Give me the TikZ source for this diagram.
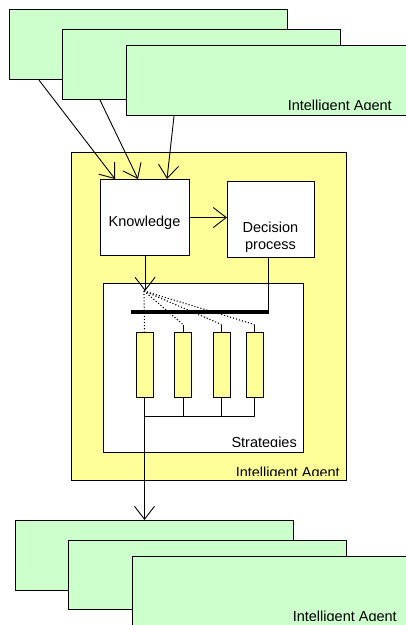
\documentclass[tikz,border=0pt]{standalone}
\usepackage{fontspec}
\setmainfont{Liberation Sans}
\usetikzlibrary{arrows.meta,calc}
\definecolor{agentgreen}{HTML}{CCFFCC}
\definecolor{agentyellow}{HTML}{FFFF99}
\tikzset{
  agent/.style={draw,fill=agentgreen,line width=1.1pt,anchor=north west,inner sep=0pt,
    minimum width=278pt,minimum height=70pt},
  block/.style={draw,fill=white,line width=1.1pt,anchor=north west,inner sep=0pt},
  txt/.style={align=center,inner sep=0pt,font=\fontsize{14.5}{17}\selectfont},
  strat/.style={draw,fill=agentyellow,line width=1pt,inner sep=0pt,
    minimum width=17pt,minimum height=65pt},
  tag/.style={anchor=base east,inner sep=0pt,font=\fontsize{14.5}{17}\selectfont},
  link/.style={line width=0.9pt},
  >={Straight Barb[length=13pt,width=20pt,line width=0.9pt]}
}
\begin{document}
\begin{tikzpicture}[x=1pt,y=-1pt]
\clip (0,0) rectangle (406,625);
\node[agent] (a1) at (9,9) {};
\node[agent] (a2) at (62,29) {};
\node[agent,minimum width=290pt] (a3) at (126,45) {};
\begin{scope}
\clip (126,45) rectangle (404,109);
\node[tag] (a3tag) at (392,110.5) {Intelligent Agent};
\end{scope}
\node[block,fill=agentyellow,minimum width=275pt,minimum height=328pt] (agent) at (71,152) {};
\node[block,minimum width=89pt,minimum height=76pt] (know) at (100,179) {};
\node[txt] (knowtxt) at (144.5,223) {Knowledge};
\node[block,minimum width=87pt,minimum height=76pt] (dec) at (227,181) {};
\node[txt] (dectxt) at (270.5,237) {Decision\\process};
\node[block,minimum width=200pt,minimum height=169pt] (strats) at (103,283) {};
\begin{scope}
\clip (103,283) rectangle (303,446);
\node[tag] (strattag) at (297,447.5) {Strategies};
\end{scope}
\begin{scope}
\clip (71,152) rectangle (346,475);
\node[tag] (agenttag) at (340,477) {Intelligent Agent};
\end{scope}
\node[strat] (s1) at (144.5,364.5) {};
\node[strat] (s2) at (183,364.5) {};
\node[strat] (s3) at (221.5,364.5) {};
\node[strat] (s4) at (254.5,364.5) {};
\coordinate (hub) at (144,291);
\coordinate (barl) at (131,312);
\coordinate (barr) at (269,312);
\coordinate (join) at (144.5,416);
\node[agent] (b1) at (15,520) {};
\node[agent,minimum height=69pt] (b2) at (68,540) {};
\node[agent,minimum width=290pt] (b3) at (132,556) {};
\begin{scope}
\clip (132,556) rectangle (406,620);
\node[tag] (b3tag) at (397,621.5) {Intelligent Agent};
\end{scope}
\draw[link,->] ($(a1.south west)+(30,0)$) -- ($(know.north west)+(15,0)$);
\draw[link,->] ($(a2.south west)+(38,0)$) -- ($(know.north west)+(38,0)$);
\draw[link,->] ($(a3.south west)+(48,0)$) -- ($(know.north west)+(67,0)$);
\draw[link,->] (know.east) -- (know.east -| dec.west);
\draw[link,->] (know.south) -- (know.south |- hub);
\draw[link] ($(dec.south west)+(41,0)$) |- (barr);
\draw[line width=4pt] (barl) -- (barr);
\draw[line width=1.1pt,dotted] (hub) -- (s1.north);
\foreach \s in {s2,s3,s4}{
  \draw[line width=1.1pt,dotted] (hub) -- ($(\s.north)+(0,-7)$);
  \draw[link] ($(\s.north)+(0,-7)$) -- (\s.north);
  \draw[link] (\s.south) -- (\s.south |- join);
}
\draw[link] (join) -- (join -| s4.south);
\draw[link,->] (s1.south) -- (s1.south |- b1.north);
\end{tikzpicture}
\end{document}
